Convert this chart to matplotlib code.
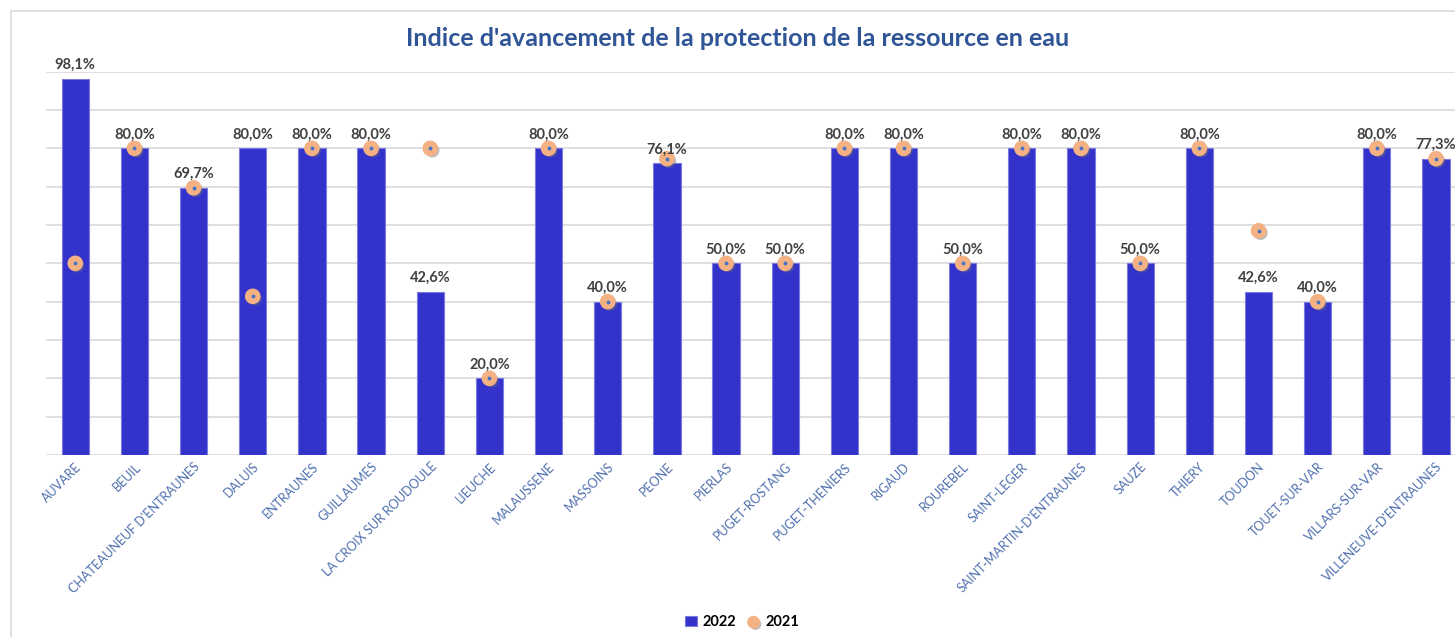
import matplotlib
matplotlib.use('Agg')
import matplotlib.pyplot as plt
import matplotlib.patheffects as pe
from matplotlib.patches import Rectangle

plt.rcParams['font.family'] = ['Lato', 'DejaVu Sans']

communes = ['AUVARE', 'BEUIL', "CHATEAUNEUF D'ENTRAUNES", 'DALUIS', 'ENTRAUNES',
            'GUILLAUMES', 'LA CROIX SUR ROUDOULE', 'LIEUCHE', 'MALAUSSENE', 'MASSOINS',
            'PEONE', 'PIERLAS', 'PUGET-ROSTANG', 'PUGET-THENIERS', 'RIGAUD', 'ROUREBEL',
            'SAINT-LEGER', "SAINT-MARTIN-D'ENTRAUNES", 'SAUZE', 'THIERY', 'TOUDON',
            'TOUET-SUR-VAR', 'VILLARS-SUR-VAR', "VILLENEUVE-D'ENTRAUNES"]
val_2022 = [98.1, 80.0, 69.7, 80.0, 80.0, 80.0, 42.6, 20.0, 80.0, 40.0, 76.1, 50.0,
            50.0, 80.0, 80.0, 50.0, 80.0, 80.0, 50.0, 80.0, 42.6, 40.0, 80.0, 77.3]
val_2021 = [50.0, 80.0, 69.7, 41.4, 80.0, 80.0, 80.0, 20.0, 80.0, 40.0, 77.3, 50.0,
            50.0, 80.0, 80.0, 50.0, 80.0, 80.0, 50.0, 80.0, 58.5, 40.0, 80.0, 77.3]

W, H = 1455, 637
fig = plt.figure(figsize=(W / 100, H / 100), dpi=100)

# cadre du graphique (coupe a droite et en bas)
fig.patches.append(Rectangle((11 / W, -0.1), 1.2, 1 - 11 / H + 0.1, transform=fig.transFigure,
                             fill=False, edgecolor='#d9d9d9', lw=1.2, zorder=0))

left = 45.7 / W
width = (1465.6 - 45.7) / W
ax = fig.add_axes([left, (H - 455) / H, width, (455 - 71.7) / H])

x = range(len(communes))
bars = ax.bar(x, val_2022, width=0.46, color='#3333CC', edgecolor='#7a7ae0', lw=0.8,
              zorder=2, label='2022')
dots = ax.scatter(x, val_2021, s=105, color='#F4B183', zorder=3, label='2021',
                  path_effects=[pe.SimplePatchShadow(offset=(1.5, -1.5), shadow_rgbFace='#707070',
                                                     alpha=0.45),
                                pe.Normal()])
ax.scatter(x, val_2021, s=3, color='#4472C4', zorder=4)

for xi, v in zip(x, val_2022):
    ax.annotate(f"{v:.1f}".replace('.', ',') + '%', (xi, v), xytext=(0, 5),
                textcoords='offset points', ha='center', va='bottom',
                fontsize=10.5, fontweight='bold', color='#404040', zorder=5,
                annotation_clip=False)

ax.set_xlim(-0.5, len(communes) - 0.5)
ax.set_ylim(0, 100)
ax.set_yticks(range(0, 101, 10))
ax.set_yticklabels([])
ax.tick_params(axis='y', length=0)
ax.tick_params(axis='x', length=0, pad=4)
ax.grid(axis='y', color='#d9d9d9', lw=1.2, zorder=0)
ax.set_axisbelow(True)
for s in ax.spines.values():
    s.set_visible(False)

ax.set_xticks(list(x))
ax.set_xticklabels(communes, rotation=45, ha='right', rotation_mode='anchor',
                   fontsize=9, color='#4F6FAF')

fig.text(738 / W, 1 - 38 / H, "Indice d'avancement de la protection de la ressource en eau",
         ha='center', va='center', fontsize=18, fontweight='bold', color='#2F5597')

fig.legend([bars, dots], ['2022', '2021'], loc='center', bbox_to_anchor=(742 / W, 1 - 622 / H),
           ncol=2, frameon=False, handlelength=0.8, handletextpad=0.4, columnspacing=0.8,
           markerscale=0.8, prop={'weight': 'bold', 'size': 10.5})

fig.savefig('out.png', dpi=100)
